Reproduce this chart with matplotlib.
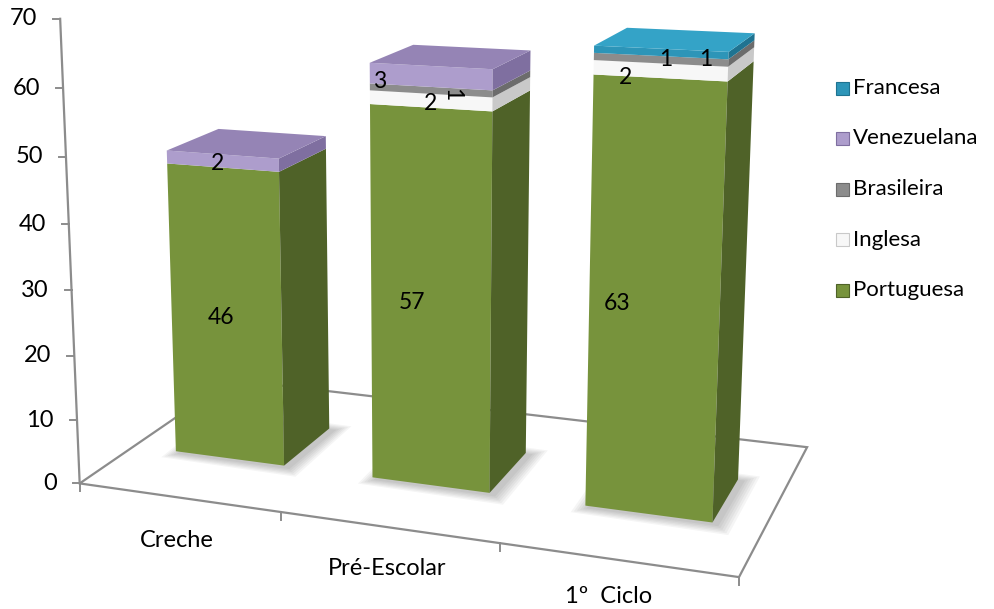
import numpy as np
import matplotlib.pyplot as plt
from matplotlib.patches import Polygon, Rectangle

plt.rcParams['font.family'] = ['Lato', 'DejaVu Sans']

# dados
categorias = ['Creche', 'Pré-Escolar', '1º  Ciclo']
portuguesa = [46, 57, 63]
inglesa = [0, 2, 2]
brasileira = [0, 1, 1]
venezuelana = [2, 3, 0]
francesa = [0, 0, 1]
series = ['Portuguesa', 'Inglesa', 'Brasileira', 'Venezuelana', 'Francesa']
valores = [portuguesa, inglesa, brasileira, venezuelana, francesa]
yticks = [0, 10, 20, 30, 40, 50, 60, 70]

# cores (frente, lado, topo)
cores = {
    'Portuguesa': ('#77933C', '#4F6228', '#9BBB59'),
    'Inglesa': ('#F7F7F7', '#C9C9C9', '#FFFFFF'),
    'Brasileira': ('#8C8C8C', '#6C6C6C', '#A5A5A5'),
    'Venezuelana': ('#AD9DCC', '#7F6FA0', '#9584B5'),
    'Francesa': ('#2D95B8', '#1F7391', '#34A3C7'),
}

# --- perspectiva: calibrada pelos cantos da moldura (pixels da imagem) ---
mundo = [(0, 0, 0), (1, 0, 0), (2, 0, 0), (3, 0, 0), (3, 0, 1), (0, 0, 1),
         (0, 10, 0), (0, 20, 0), (0, 30, 0), (0, 40, 0), (0, 50, 0), (0, 60, 0), (0, 70, 0)]
pixels = [(80, 484), (283, 513), (498, 540), (740, 578), (807, 448), (231, 379),
          (77, 421), (74, 356), (71, 290), (68, 224), (66, 157), (63, 88), (61, 19)]

A = []
for (X, Y, Z), (u, v) in zip(mundo, pixels):
    Y = Y / 20.0
    u = (u - 500) / 500.0
    v = (v - 300) / 500.0
    A.append([X, Y, Z, 1, 0, 0, 0, 0, -u * X, -u * Y, -u * Z, -u])
    A.append([0, 0, 0, 0, X, Y, Z, 1, -v * X, -v * Y, -v * Z, -v])
_, _, vt = np.linalg.svd(np.array(A))
P = vt[-1].reshape(3, 4)


def proj(X, Y, Z):
    h = P @ np.array([X, Y / 20.0, Z, 1.0])
    return h[0] / h[2] * 500 + 500, h[1] / h[2] * 500 + 300


fig = plt.figure(figsize=(9.95, 6.09), dpi=100)
ax = fig.add_axes([0, 0, 1, 1])
ax.set_xlim(0, 995)
ax.set_ylim(609, 0)
ax.axis('off')

cinza = '#8C8C8C'
# chao
chao = [proj(0, 0, 0), proj(3, 0, 0), proj(3, 0, 1), proj(0, 0, 1)]
ax.add_patch(Polygon(chao, closed=True, fill=False, ec=cinza, lw=1.6, zorder=1))
# eixo vertical
p0, p1 = proj(0, 0, 0), proj(0, 70, 0)
ax.plot([p0[0], p1[0]], [p0[1], p1[1]], color=cinza, lw=1.6, zorder=1)
for t in yticks:
    x, y = proj(0, t, 0)
    ax.plot([x - 7, x], [y, y], color=cinza, lw=1.4)
    ax.text(x - 23, y, str(t), ha='right', va='center', fontsize=17)
for i in range(4):
    x, y = proj(i, 0, 0)
    ax.plot([x, x], [y, y + 8], color=cinza, lw=1.4)
# deslocamento dos rotulos das categorias (px)
cat_desl = [(-2, 43), (-1, 41), (-8, 37)]
for i, c in enumerate(categorias):
    x, y = proj(i + 0.5, 0, 0)
    ax.text(x + cat_desl[i][0], y + cat_desl[i][1], c, ha='center', va='center', fontsize=17)

# barras
x0o, x1o = 0.22, 0.78
z0, z1 = 0.33, 0.67
rot_desl = [-5, -18, -37]
desloc = {(1, 'Venezuelana'): (-51, 5, 0), (1, 'Inglesa'): (0, 3, 0), (1, 'Brasileira'): (21, 4, -90),
          (2, 'Inglesa'): (-34, 7, 0), (2, 'Brasileira'): (5, 0, 0), (2, 'Francesa'): (45, 7, 0)}
for i in range(len(categorias)):
    xa, xb = i + x0o, i + x1o
    # sombra
    for k in range(6, 0, -1):
        base = [proj(xa, 0, z0), proj(xb, 0, z0), proj(xb, 0, z1), proj(xa, 0, z1)]
        cx = np.mean([b[0] for b in base]); cy = np.mean([b[1] for b in base])
        base = [(cx + (bx - cx) * (1 + 0.04 * k) + 4, cy + (by - cy) * (1 + 0.06 * k) + 2) for bx, by in base]
        ax.add_patch(Polygon(base, closed=True, fc='black', ec='none', alpha=0.04, zorder=2))
    ativos = [(s, v[i]) for s, v in zip(series, valores) if v[i] > 0]
    fundo = 0
    for n, (s, val) in enumerate(ativos):
        topo = fundo + val
        fr, la, tp = cores[s]
        frente = [proj(xa, fundo, z0), proj(xb, fundo, z0), proj(xb, topo, z0), proj(xa, topo, z0)]
        lado = [proj(xb, fundo, z0), proj(xb, fundo, z1), proj(xb, topo, z1), proj(xb, topo, z0)]
        ax.add_patch(Polygon(frente, closed=True, fc=fr, ec='none', zorder=3))
        ax.add_patch(Polygon(lado, closed=True, fc=la, ec='none', zorder=3))
        if n == len(ativos) - 1:
            cima = [proj(xa, topo, z0), proj(xb, topo, z0), proj(xb, topo, z1), proj(xa, topo, z1)]
            ax.add_patch(Polygon(cima, closed=True, fc=tp, ec='none', zorder=3))
        lx, ly = proj((xa + xb) / 2, (fundo + topo) / 2, z0)
        if (i, s) in desloc:
            dx, dy, rot = desloc[(i, s)]
        else:
            dx, dy, rot = rot_desl[i], 2, 0
        ax.text(lx + dx, ly + dy, str(val), ha='center', va='center', fontsize=16.5,
                rotation=rot, zorder=5)
        fundo = topo

# legenda
for k, s in enumerate(series[::-1]):
    y = 88 + k * 50.5
    ax.add_patch(Rectangle((836, y - 6.5), 13, 13, fc=cores[s][0], ec=cores[s][1], lw=0.8))
    ax.text(853, y, s, ha='left', va='center', fontsize=16)

fig.savefig('out.png', dpi=100)
